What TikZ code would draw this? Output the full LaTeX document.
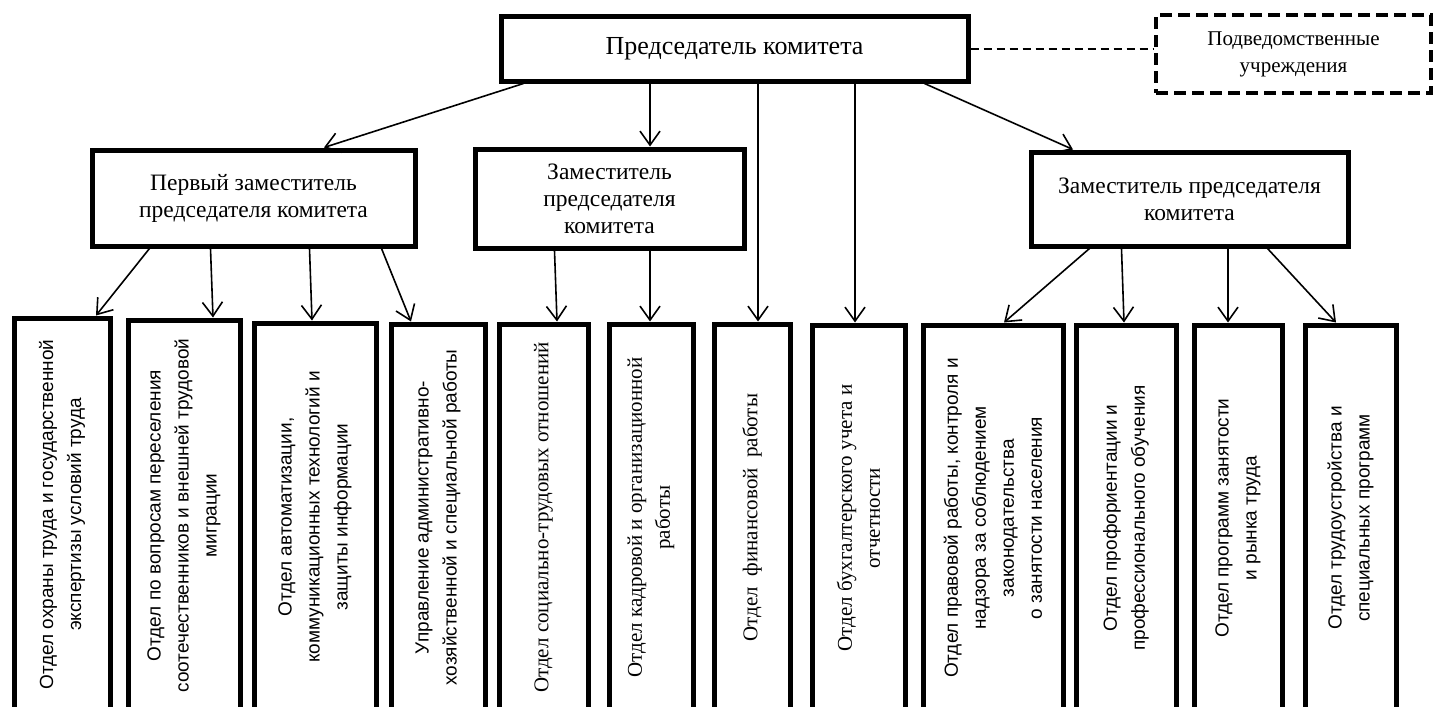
\documentclass[tikz,border=0pt]{standalone}
\usepackage{fontspec}
\setmainfont{Liberation Serif}
\newfontfamily\sansru{Liberation Sans}
\usetikzlibrary{arrows.meta}
\tikzset{
    % Node styles
    headbox/.style={
        rectangle,
        draw=black,
        line width=5pt,
        inner sep=0pt,
        align=center,
        font=\fontsize{23.5}{27}\selectfont
    },
    subbox/.style={
        rectangle,
        draw=black,
        line width=4pt,
        dash pattern=on 12pt off 6pt,
        inner sep=0pt,
        align=center,
        font=\fontsize{21}{27}\selectfont
    },
    deptbox/.style={
        rectangle,
        draw=black,
        line width=5pt,
        inner sep=0pt,
        rotate=90,
        align=center
    },
    deptsans/.style={
        deptbox,
        font=\sansru\fontsize{19}{28}\selectfont
    },
    deptserif/.style={
        deptbox,
        font=\fontsize{21}{28}\selectfont
    },
    % Arrow styles
    myarrow/.style={
        -{Straight Barb[length=14pt,width=20pt]},
        line width=1.6pt,
        black
    },
    dashedlink/.style={
        line width=2pt,
        dash pattern=on 8pt off 5pt,
        black
    }
}

\begin{document}
\begin{tikzpicture}[x=1pt, y=-1pt]
    \useasboundingbox (0,0) rectangle (1444,707);
    \clip (0,0) rectangle (1444,707);

    % Top level
    \node[headbox, font=\fontsize{26}{30}\selectfont, minimum width=467pt, minimum height=65pt] (chair) at (734.5,48.5) {Председатель комитета};
    \node[subbox, minimum width=275pt, minimum height=78pt] (sub) at (1293.5,54) {Подведомственные\\учреждения};

    % Deputies
    \node[headbox, minimum width=323pt, minimum height=96pt] (dep1) at (253.5,198) {Первый заместитель\\председателя комитета};
    \node[headbox, minimum width=269pt, minimum height=99pt] (dep2) at (609.5,198.5) {Заместитель\\председателя\\комитета};
    \node[headbox, minimum width=317pt, minimum height=94pt] (dep3) at (1189.5,199) {Заместитель председателя\\комитета};

    % Departments (rotated, top edge is .east)
    \node[deptsans, minimum width=393pt, minimum height=96pt] (otd1) at (62,514.5) {Отдел охраны труда и государственной\\экспертизы условий труда};
    \node[deptsans, minimum width=391pt, minimum height=112pt] (otd2) at (184,515.5) {Отдел по вопросам переселения\\соотечественников и внешней трудовой\\миграции};
    \node[deptsans, minimum width=388pt, minimum height=122pt] (otd3) at (315,517) {Отдел автоматизации,\\коммуникационных технологий и\\защиты информации};
    \node[deptsans, minimum width=387pt, minimum height=94pt] (otd4) at (438,517.5) {Управление административно-\\хозяйственной и специальной работы};
    \node[deptserif, minimum width=387pt, minimum height=89pt] (otd5) at (543.5,517.5) {Отдел социально-трудовых отношений};
    \node[deptserif, minimum width=387pt, minimum height=84pt] (otd6) at (651,517.5) {Отдел кадровой и организационной\\работы};
    \node[deptserif, minimum width=387pt, minimum height=76pt] (otd7) at (752,517.5) {Отдел~~финансовой~~работы};
    \node[deptserif, minimum width=386pt, minimum height=93pt] (otd8) at (858.5,518) {Отдел бухгалтерского учета и\\отчетности};
    \node[deptsans, minimum width=386pt, minimum height=140pt] (otd9) at (993,518) {Отдел правовой работы, контроля и\\надзора за соблюдением\\законодательства\\о занятости населения};
    \node[deptsans, minimum width=386pt, minimum height=100pt] (otd10) at (1126,518) {Отдел профориентации и\\профессионального обучения};
    \node[deptsans, minimum width=386pt, minimum height=88pt] (otd11) at (1238,518) {Отдел программ занятости\\и рынка труда};
    \node[deptsans, minimum width=386pt, minimum height=91pt] (otd12) at (1350.5,518) {Отдел трудоустройства и\\специальных программ};

    % Links from chairman
    \draw[dashedlink] (chair.east) -- (chair.east -| sub.west);
    \draw[myarrow] ([xshift=25pt]chair.south west) -- ([xshift=70.5pt]dep1.north);
    \draw[myarrow] ([xshift=-84.5pt]chair.south) -- ([xshift=40.5pt]dep2.north);
    \draw[myarrow] ([xshift=23.5pt]chair.south) -- ([xshift=6pt]otd7.east);
    \draw[myarrow] ([xshift=120.5pt]chair.south) -- ([xshift=-3.5pt]otd8.east);
    \draw[myarrow] ([xshift=-46pt]chair.south east) -- ([xshift=-116.5pt]dep3.north);

    % Links from deputies
    \draw[myarrow] ([xshift=60pt]dep1.south west) -- ([xshift=34pt]otd1.east);
    \draw[myarrow] ([xshift=121pt]dep1.south west) -- ([xshift=29pt]otd2.east);
    \draw[myarrow] ([xshift=220pt]dep1.south west) -- ([xshift=-3pt]otd3.east);
    \draw[myarrow] ([xshift=-36pt]dep1.south east) -- ([xshift=-27pt]otd4.east);
    \draw[myarrow] ([xshift=82pt]dep2.south west) -- ([xshift=13.5pt]otd5.east);
    \draw[myarrow] ([xshift=40.5pt]dep2.south) -- ([xshift=-1pt]otd6.east);
    \draw[myarrow] ([xshift=61pt]dep3.south west) -- ([xshift=11pt]otd9.east);
    \draw[myarrow] ([xshift=93pt]dep3.south west) -- ([xshift=-2pt]otd10.east);
    \draw[myarrow] ([xshift=38.5pt]dep3.south) -- ([xshift=-10pt]otd11.east);
    \draw[myarrow] ([xshift=-83pt]dep3.south east) -- ([xshift=-14.5pt]otd12.east);
\end{tikzpicture}
\end{document}
